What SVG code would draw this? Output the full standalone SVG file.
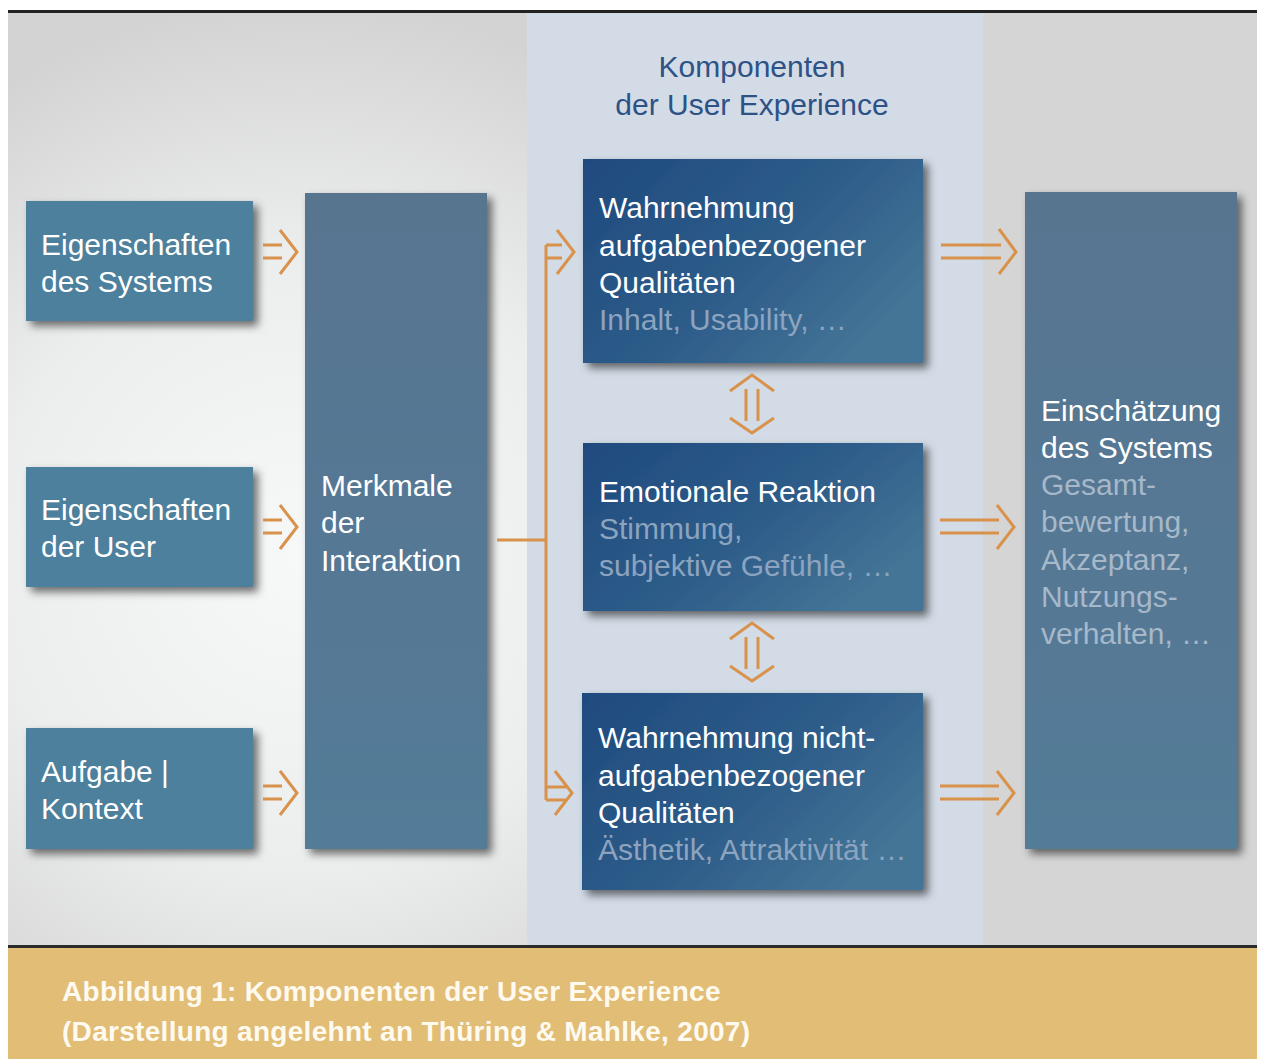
<svg xmlns="http://www.w3.org/2000/svg" width="1262" height="1059" viewBox="0 0 1262 1059">
<defs>
<radialGradient id="bgL" cx="300" cy="560" r="560" gradientUnits="userSpaceOnUse">
<stop offset="0" stop-color="#f7f8f8"/>
<stop offset="0.55" stop-color="#eceded"/>
<stop offset="1" stop-color="#d3d3d3"/>
</radialGradient>
<linearGradient id="blue" x1="0" y1="0" x2="1" y2="0.6">
<stop offset="0" stop-color="#1f4a7e"/>
<stop offset="0.6" stop-color="#2e5d8a"/>
<stop offset="1" stop-color="#447496"/>
</linearGradient>
<linearGradient id="slate" x1="0" y1="0" x2="0" y2="1">
<stop offset="0" stop-color="#597590"/>
<stop offset="1" stop-color="#527b98"/>
</linearGradient>
<filter id="sh" x="-10%" y="-10%" width="130%" height="130%">
<feDropShadow dx="5" dy="5" stdDeviation="4" flood-color="#000" flood-opacity="0.55"/>
</filter>
<style>
.t{font-family:"Liberation Sans",Arial,sans-serif;font-size:30px;fill:#ffffff}
.g{fill:#8ca4bf}
.g2{fill:#a6b8c9}
.ttl{font-family:"Liberation Sans",Arial,sans-serif;font-size:30px;fill:#2d5286;text-anchor:middle}
.ft{font-family:"Liberation Sans",Arial,sans-serif;font-size:28px;font-weight:bold;fill:#fefaf0;letter-spacing:0.3px}
.ar{fill:none;stroke:#d9924b;stroke-width:3}
.lb{fill:#4e809c}
</style>
</defs>
<rect width="1262" height="1059" fill="#ffffff"/>
<rect x="8" y="12" width="1249" height="934" fill="url(#bgL)"/>
<rect x="983" y="12" width="274" height="934" fill="#d5d5d5"/>
<rect x="527" y="12" width="456" height="934" fill="#d3dbe6"/>
<rect x="8" y="10" width="1249" height="3" fill="#222"/>
<rect x="8" y="945" width="1249" height="3" fill="#2b2b2b"/>
<rect x="8" y="948" width="1249" height="111" fill="#e2bd75"/>

<g id="title">
<text class="ttl" x="752" y="77">Komponenten</text>
<text class="ttl" x="752" y="115">der User Experience</text>
</g>

<g id="n1"><rect class="lb" x="26" y="201" width="227" height="120" filter="url(#sh)"/>
<text class="t" x="41" y="255">Eigenschaften</text><text class="t" x="41" y="292">des Systems</text></g>
<g id="n2"><rect class="lb" x="26" y="467" width="227" height="120" filter="url(#sh)"/>
<text class="t" x="41" y="520">Eigenschaften</text><text class="t" x="41" y="557">der User</text></g>
<g id="n3"><rect class="lb" x="26" y="728" width="227" height="121" filter="url(#sh)"/>
<text class="t" x="41" y="782">Aufgabe |</text><text class="t" x="41" y="819">Kontext</text></g>

<g id="n4"><rect fill="url(#slate)" x="305" y="193" width="182" height="656" filter="url(#sh)"/>
<text class="t" x="321" y="496">Merkmale</text><text class="t" x="321" y="533">der</text><text class="t" x="321" y="571">Interaktion</text></g>

<g id="n5"><rect fill="url(#blue)" x="583" y="159" width="340" height="204" filter="url(#sh)"/>
<text class="t" x="599" y="218">Wahrnehmung</text><text class="t" x="599" y="256">aufgabenbezogener</text><text class="t" x="599" y="293">Qualitäten</text><text class="t g" x="599" y="330">Inhalt, Usability, …</text></g>
<g id="n6"><rect fill="url(#blue)" x="583" y="443" width="340" height="168" filter="url(#sh)"/>
<text class="t" x="599" y="502">Emotionale Reaktion</text><text class="t g" x="599" y="539">Stimmung,</text><text class="t g" x="599" y="576">subjektive Gefühle, …</text></g>
<g id="n7"><rect fill="url(#blue)" x="582" y="693" width="341" height="197" filter="url(#sh)"/>
<text class="t" x="598" y="748">Wahrnehmung nicht-</text><text class="t" x="598" y="786">aufgabenbezogener</text><text class="t" x="598" y="823">Qualitäten</text><text class="t g" x="598" y="860">Ästhetik, Attraktivität …</text></g>

<g id="n8"><rect fill="url(#slate)" x="1025" y="192" width="212" height="657" filter="url(#sh)"/>
<text class="t" x="1041" y="421">Einschätzung</text><text class="t" x="1041" y="458">des Systems</text>
<text class="t g2" x="1041" y="495">Gesamt-</text><text class="t g2" x="1041" y="532">bewertung,</text><text class="t g2" x="1041" y="570">Akzeptanz,</text><text class="t g2" x="1041" y="607">Nutzungs-</text><text class="t g2" x="1041" y="644">verhalten, …</text></g>

<g id="connectors">
<path class="ar" d="M263 245H282M263 258H282M280 230L297 252L280 274"/>
<path class="ar" d="M263 520H282M263 533H282M280 505L297 527L280 549"/>
<path class="ar" d="M263 786H282M263 799H282M280 771L297 793L280 815"/>
<path class="ar" d="M497 540H546"/>
<path class="ar" d="M546 245V800M546 245H562M546 258H562M557 230L574 252L557 274"/>
<path class="ar" d="M546 787H566M546 800H566M555 771L572 793L555 815"/>
<path class="ar" d="M941 245H1001M941 258H1001M999 229L1016 252L999 274"/>
<path class="ar" d="M940 520H999M940 533H999M997 505L1014 527L997 549"/>
<path class="ar" d="M940 786H999M940 799H999M997 771L1014 793L997 815"/>
<path class="ar" d="M730 391L752 375L774 391M746 389V421M758 389V421M730 418L752 433L774 418"/>
<path class="ar" d="M730 639L752 623L774 639M746 637V669M758 637V669M730 666L752 681L774 666"/>
</g>

<g id="caption">
<text class="ft" x="62" y="1001">Abbildung 1: Komponenten der User Experience</text>
<text class="ft" x="62" y="1041">(Darstellung angelehnt an Thüring &amp; Mahlke, 2007)</text>
</g>
</svg>
